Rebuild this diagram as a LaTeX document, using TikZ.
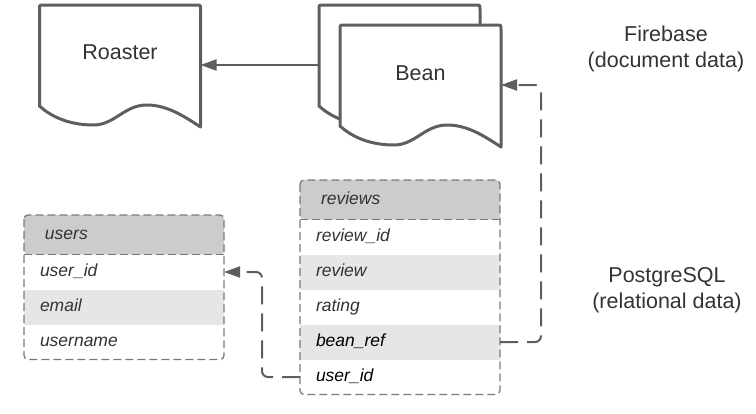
\documentclass[tikz,border=0pt]{standalone}
\usepackage{fontspec}
\setmainfont{Liberation Sans}
\usetikzlibrary{positioning,arrows.meta}

\definecolor{linegray}{HTML}{5E5E5E}
\definecolor{bordergray}{HTML}{7A7A7A}
\definecolor{headgray}{HTML}{CCCCCC}
\definecolor{rowgray}{HTML}{E6E6E6}
\definecolor{txtgray}{HTML}{333333}

\newcommand{\bigfont}{\fontsize{21.5}{26}\selectfont}
\newcommand{\tablefont}{\fontsize{17.5}{21}\selectfont\itshape}

% document outline, drawn from the top-left corner of its body node
\newcommand{\docshape}[2]{%
  \draw[docline, fill=#2, shift={(#1.north west)}] (0,101) -- (0,4) .. controls (0,0) .. (4,0)
    -- (157,0) .. controls (161,0) .. (161,4) -- (161,122)
    .. controls (140,108) and (125,100) .. (107,100)
    .. controls (85,100) and (75,120) .. (54,120)
    .. controls (30,120) and (12,112) .. (0,101) -- cycle;}

\tikzset{
  docline/.style={draw=linegray, line width=3pt, line join=round},
  docbody/.style={minimum width=161pt, minimum height=120pt, inner sep=0pt, outer sep=0pt},
  doctext/.style={font=\bigfont, text=txtgray},
  sidelabel/.style={font=\bigfont, text=txtgray, align=center},
  head/.style={fill=headgray, rounded corners=4pt, anchor=north west, minimum width=200pt,
    minimum height=39.5pt, text width=158pt, inner xsep=21pt, inner ysep=0pt, outer sep=0pt,
    text height=12.5pt, text depth=3.5pt, font=\tablefont, text=txtgray},
  field/.style={minimum width=200pt, minimum height=35pt, text width=168pt, inner xsep=16pt,
    inner ysep=0pt, outer sep=0pt, text height=12.5pt, text depth=3.5pt, font=\tablefont, text=txtgray},
  alt/.style={fill=rowgray},
  tableline/.style={draw=bordergray, line width=1.3pt, dash pattern=on 8pt off 4pt},
  ref/.style={draw=linegray, line width=2pt, -{Triangle[length=16pt,width=11pt]}},
  fk/.style={ref, dash pattern=on 18pt off 9pt, rounded corners=6pt},
}

\begin{document}
\begin{tikzpicture}[x=1pt, y=-1pt]
    \useasboundingbox (0,0) rectangle (756,413);
    %\draw[help lines, color=gray!30] (0,0) grid[step=50] (756,413);

    % Firebase documents
    \node[docbody] (roaster) at (120,65) {};
    \node[docbody] (bean-back) at (399.5,65) {};
    \node[docbody] (bean) at (420.5,85) {};
    \docshape{bean-back}{white}
    \docshape{bean}{white}
    \docshape{roaster}{white}
    \node[doctext] (roaster-txt) at ([yshift=13pt]roaster.center) {Roaster};
    \node[doctext] (bean-txt) at ([yshift=12pt]bean.center) {Bean};
    \draw[ref] (bean-back.west) -- (roaster.east);

    % users table
    \node[head] (users) at (24,215) {users};
    \node[field, below=0pt of users] (u-userid) {user\_id};
    \node[field, alt, below=0pt of u-userid] (u-email) {email};
    \node[field, below=0pt of u-email] (u-username) {username};
    \draw[tableline, rounded corners=4pt] (users.north west) rectangle (u-username.south east);
    \draw[tableline] (users.south west) -- (users.south east);

    % reviews table
    \node[head] (reviews) at (300,180) {reviews};
    \node[field, below=0pt of reviews] (rv-id) {review\_id};
    \node[field, alt, below=0pt of rv-id] (rv-review) {review};
    \node[field, below=0pt of rv-review] (rv-rating) {rating};
    \node[field, alt, text=black, below=0pt of rv-rating] (rv-beanref) {bean\_ref};
    \node[field, text=black, below=0pt of rv-beanref] (rv-userid) {user\_id};
    \draw[tableline, rounded corners=4pt] (reviews.north west) rectangle (rv-userid.south east);
    \draw[tableline] (reviews.south west) -- (reviews.south east);

    % references
    \draw[fk] (rv-beanref.east) -- ++(41,0) |- (bean.east);
    \draw[fk] (rv-userid.west) -- ++(-38,0) |- (u-userid.east);

    % stores
    \node[sidelabel] (firebase) at (666,48.5) {Firebase\\(document data)};
    \node[sidelabel] (postgres) at (667,290) {PostgreSQL\\(relational data)};
\end{tikzpicture}
\end{document}
